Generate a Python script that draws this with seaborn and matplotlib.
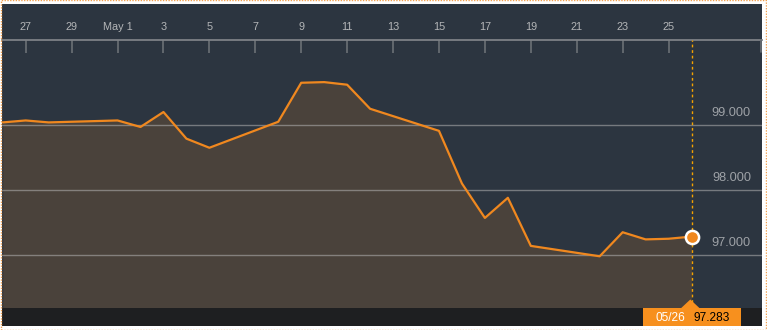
import matplotlib
matplotlib.use("Agg")
import matplotlib.pyplot as plt
import matplotlib.dates as mdates
from matplotlib.patches import Rectangle, Polygon
from matplotlib.lines import Line2D
import seaborn as sns
import pandas as pd

# ---- data ----
dates = ["2017-04-26", "2017-04-27", "2017-04-28", "2017-05-01", "2017-05-02",
         "2017-05-03", "2017-05-04", "2017-05-05", "2017-05-08", "2017-05-09",
         "2017-05-10", "2017-05-11", "2017-05-12", "2017-05-15", "2017-05-16",
         "2017-05-17", "2017-05-18", "2017-05-19", "2017-05-22", "2017-05-23",
         "2017-05-24", "2017-05-25", "2017-05-26"]
values = [99.04, 99.07, 99.04, 99.07, 98.97,
          99.20, 98.79, 98.65, 99.05, 99.65,
          99.66, 99.62, 99.25, 98.91, 98.10,
          97.57, 97.88, 97.14, 96.98, 97.35,
          97.24, 97.25, 97.283]
tick_dates = ["2017-04-27", "2017-04-29", "2017-05-01", "2017-05-03", "2017-05-05",
              "2017-05-07", "2017-05-09", "2017-05-11", "2017-05-13", "2017-05-15",
              "2017-05-17", "2017-05-19", "2017-05-21", "2017-05-23", "2017-05-25"]
tick_labels = ["27", "29", "May 1", "3", "5", "7", "9", "11", "13", "15",
               "17", "19", "21", "23", "25"]
grid_values = [97.0, 98.0, 99.0]
grid_labels = ["97.000", "98.000", "99.000"]
last_date_label = "05/26"
last_value_label = "97.283"

# ---- style ----
BG = "#2c3540"
FILL = "#4a423b"
ORANGE = "#f0881f"
BAND = "#1e1f21"

sns.set_style("dark", {"axes.facecolor": BG})
plt.rcParams["font.family"] = ["Liberation Sans", "DejaVu Sans"]

W, H = 767, 330
fig = plt.figure(figsize=(W / 100, H / 100), dpi=100)
fig.patch.set_facecolor("white")

def fx(px):
    return px / W

def fy(py):
    return 1 - py / H

# dark panel
fig.add_artist(Rectangle((fx(2), fy(326)), fx(762) - fx(2), fy(4) - fy(326),
                         transform=fig.transFigure, facecolor=BG, edgecolor="none", zorder=0))

ax_top, ax_bot, ax_l, ax_r = 40, 307.7, 2, 762
ax = fig.add_axes([fx(ax_l), fy(ax_bot), fx(ax_r) - fx(ax_l), fy(ax_top) - fy(ax_bot)])
ax.set_facecolor(BG)

df = pd.DataFrame({"date": pd.to_datetime(dates), "value": values})
ymin, ymax = 96.189, 100.308

ax.fill_between(df["date"], df["value"], ymin - 1, color=FILL, zorder=1, linewidth=0)
sns.lineplot(data=df, x="date", y="value", ax=ax, color=ORANGE, linewidth=1.6, zorder=4)

for v in grid_values:
    ax.axhline(v, color="#b4b4b4", alpha=0.55, linewidth=1, zorder=3)

last = df.iloc[-1]
ax.axvline(last["date"], color="#f5a300", linewidth=1, linestyle=(0, (2, 2)), zorder=5)
ax.plot([last["date"]], [last["value"]], marker="o", markersize=9.5,
        markerfacecolor=ORANGE, markeredgecolor="white", markeredgewidth=1.8,
        zorder=6, clip_on=False)

# axes limits (about 23 px per day, Apr 27 at x=25.7)
x0 = mdates.date2num(pd.Timestamp("2017-04-27"))
ppd = 22.96
ax.set_xlim(x0 - (25.7 - ax_l) / ppd, x0 + (ax_r - 25.7) / ppd)
ax.set_ylim(ymin, ymax)

ax.set_xticks(pd.to_datetime(tick_dates))
ax.set_xticklabels(tick_labels)
ax.xaxis.set_ticks_position("top")
ax.xaxis.set_label_position("top")
ax.tick_params(axis="x", direction="in", length=9, width=1.2, color="#6b7076",
               labelcolor="#b4b6b8", labelsize=7.8, pad=5.5,
               top=True, bottom=False, labeltop=True, labelbottom=False)
ax.set_yticks([])
ax.set_xlabel("")
ax.set_ylabel("")
ax.grid(False)
for s in ["left", "right", "bottom"]:
    ax.spines[s].set_visible(False)
ax.spines["top"].set_color("#7d8186")
ax.spines["top"].set_linewidth(1.3)

for v, lab in zip(grid_values, grid_labels):
    ax.annotate(lab, xy=(1, v), xycoords=("axes fraction", "data"),
                xytext=(-11 * 0.72, 12 * 0.72), textcoords="offset points",
                ha="right", va="center", color="#9ea2a7", fontsize=9.2, zorder=7)

# right end tick
fig.add_artist(Line2D([fx(761.3), fx(761.3)], [fy(40), fy(52)], transform=fig.transFigure,
                      color="#6b7076", linewidth=1.2))

# bottom band
fig.add_artist(Rectangle((fx(2), fy(326)), fx(762) - fx(2), fy(ax_bot) - fy(326),
                         transform=fig.transFigure, facecolor=BAND, edgecolor="none", zorder=8))
# value label box
fig.add_artist(Rectangle((fx(643), fy(326)), fx(741) - fx(643), fy(ax_bot) - fy(326),
                         transform=fig.transFigure, facecolor="#f7901e", edgecolor="none", zorder=9))
fig.add_artist(Polygon([(fx(681), fy(ax_bot + 0.5)), (fx(690.3), fy(299.5)), (fx(699.6), fy(ax_bot + 0.5))],
                       closed=True, transform=fig.transFigure, facecolor="#f7901e",
                       edgecolor="none", zorder=9))
fig.text(fx(670.5), fy(318), last_date_label, color="white", fontsize=8.6,
         ha="center", va="center", zorder=10)
fig.text(fx(711.5), fy(318), last_value_label, color="black", fontsize=8.6,
         ha="center", va="center", zorder=10)

# dotted outer border
fig.add_artist(Rectangle((fx(0.5), fy(329.5)), fx(766.5) - fx(0.5), fy(0.5) - fy(329.5),
                         transform=fig.transFigure, facecolor="none", edgecolor="#f0a050",
                         linewidth=1, linestyle=(0, (1, 1)), zorder=11))

fig.savefig("out.png", dpi=100, facecolor=fig.get_facecolor())
